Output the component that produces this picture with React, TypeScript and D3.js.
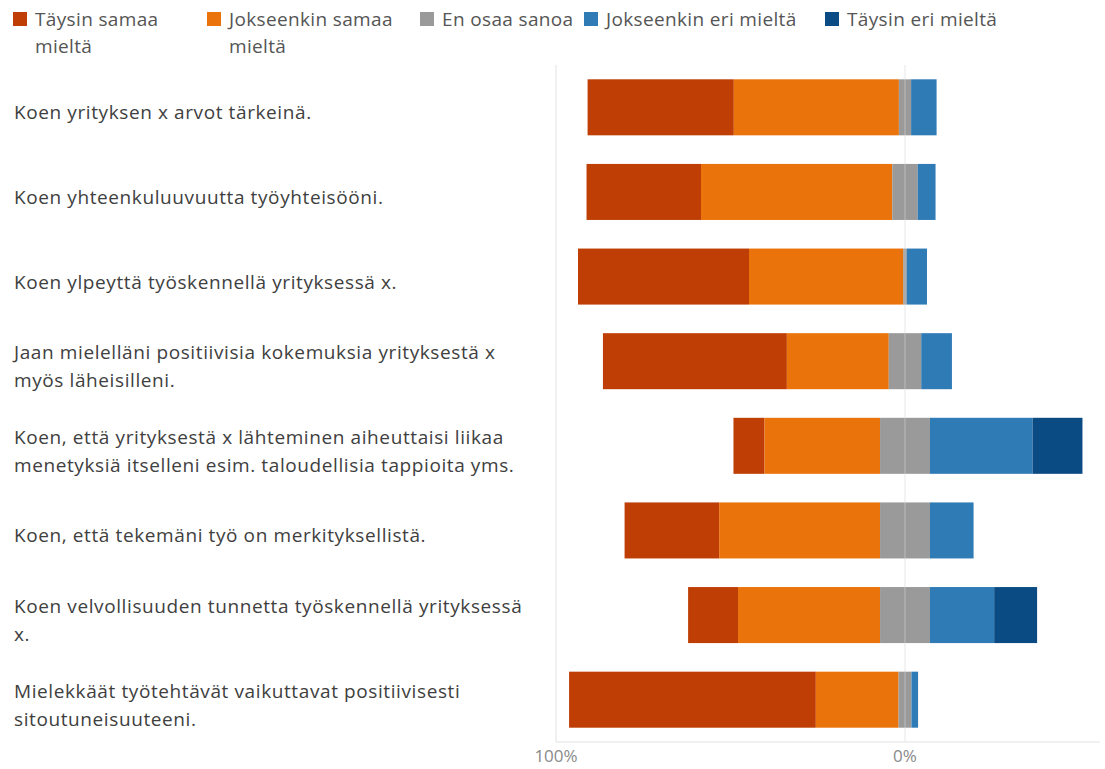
import React from "react";
import * as d3 from "d3";

const seriesNames = [
  "Täysin samaa mieltä",
  "Jokseenkin samaa mieltä",
  "En osaa sanoa",
  "Jokseenkin eri mieltä",
  "Täysin eri mieltä",
];
const legendLines = [
  ["Täysin samaa", "mieltä"],
  ["Jokseenkin samaa", "mieltä"],
  ["En osaa sanoa"],
  ["Jokseenkin eri mieltä"],
  ["Täysin eri mieltä"],
];
const colors = ["#BE3E06", "#EB730B", "#9A9A9A", "#2F7BB5", "#0B4B83"];

const categories = [
  ["Koen yrityksen x arvot tärkeinä."],
  ["Koen yhteenkuluuvuutta työyhteisööni."],
  ["Koen ylpeyttä työskennellä yrityksessä x."],
  ["Jaan mielelläni positiivisia kokemuksia yrityksestä x", "myös läheisilleni."],
  ["Koen, että yrityksestä x lähteminen aiheuttaisi liikaa", "menetyksiä itselleni esim. taloudellisia tappioita yms."],
  ["Koen, että tekemäni työ on merkityksellistä."],
  ["Koen velvollisuuden tunnetta työskennellä yrityksessä", "x."],
  ["Mielekkäät työtehtävät vaikuttavat positiivisesti", "sitoutuneisuuteeni."],
];

const taysinSamaa = [41.9, 32.8, 49.0, 52.7, 8.9, 27.1, 14.3, 70.7];
const jokseenkinSamaa = [47.3, 54.8, 44.2, 29.2, 33.1, 46.1, 40.7, 23.7];
const enOsaa = [3.5, 7.3, 1.0, 9.3, 14.3, 14.3, 14.3, 3.7];
const jokseenkinEri = [7.3, 5.1, 5.8, 8.8, 29.4, 12.5, 18.4, 1.9];
const taysinEri = [0, 0, 0, 0, 14.3, 0, 12.3, 0];

const tickValues = [-100, 0];
const tickLabels = ["100%", "0%"];

const FONT = "'Open Sans', 'Noto Sans', sans-serif";

export default function App() {
  const W = 1105;
  const H = 769;
  const x = d3.scaleLinear().domain([-100, 0]).range([556, 905]);
  const keys = categories.map((_, i) => String(i));
  const y = d3
    .scaleBand()
    .domain(keys)
    .range([65, 742])
    .paddingInner(0.338)
    .paddingOuter(0.169);
  const bw = y.bandwidth();

  const segs: { key: string; x0: number; x1: number; c: string }[] = [];
  keys.forEach((k, i) => {
    const vals = [taysinSamaa[i], jokseenkinSamaa[i], enOsaa[i], jokseenkinEri[i], taysinEri[i]];
    let start = -(vals[0] + vals[1] + vals[2] / 2);
    vals.forEach((v, j) => {
      if (v > 0) segs.push({ key: k, x0: start, x1: start + v, c: colors[j] });
      start += v;
    });
  });

  const legendX = [13, 207, 420, 584, 825];

  return (
    <svg width={W} height={H} style={{ display: "block", position: "absolute", left: 0, top: 0 }} fontFamily={FONT}>
      <rect width={W} height={H} fill="#fff" />
      {/* legend */}
      {legendLines.map((lines, i) => (
        <g key={i} transform={`translate(${legendX[i]},0)`}>
          <rect x={0} y={12} width={14} height={14} fill={colors[i]} />
          {lines.map((t, j) => (
            <text key={j} x={22} y={26 + j * 27} fontSize={19} letterSpacing={0.35} fill="#555">
              {t}
            </text>
          ))}
        </g>
      ))}
      {/* gridlines */}
      {tickValues.map((v) => (
        <line key={v} x1={x(v)} x2={x(v)} y1={65} y2={742} stroke="#e3e3e3" strokeWidth={1} />
      ))}
      <line x1={x(-100)} x2={1100} y1={742} y2={742} stroke="#e3e3e3" strokeWidth={1} />
      {/* bars */}
      {segs.map((s, i) => (
        <rect
          key={i}
          x={x(s.x0)}
          width={x(s.x1) - x(s.x0)}
          y={y(s.key)!}
          height={bw}
          fill={s.c}
        />
      ))}
      {/* zero line over bars (faint) */}
      <line x1={x(0)} x2={x(0)} y1={65} y2={742} stroke="#ffffff" strokeOpacity={0.35} strokeWidth={1} />
      {/* category labels */}
      {categories.map((lines, i) => {
        const cy = y(keys[i])! + bw / 2 + 5;
        const lh = 28;
        const top = cy - ((lines.length - 1) * lh) / 2;
        return (
          <text key={i} fontSize={19} letterSpacing={0.6} fill="#404040">
            {lines.map((t, j) => (
              <tspan key={j} x={14} y={top + j * lh} dominantBaseline="central">
                {t}
              </tspan>
            ))}
          </text>
        );
      })}
      {/* tick labels */}
      {tickValues.map((v, i) => (
        <text key={v} x={x(v)} y={762} textAnchor="middle" fontSize={17} fill="#8a8a8a">
          {tickLabels[i]}
        </text>
      ))}
    </svg>
  );
}
